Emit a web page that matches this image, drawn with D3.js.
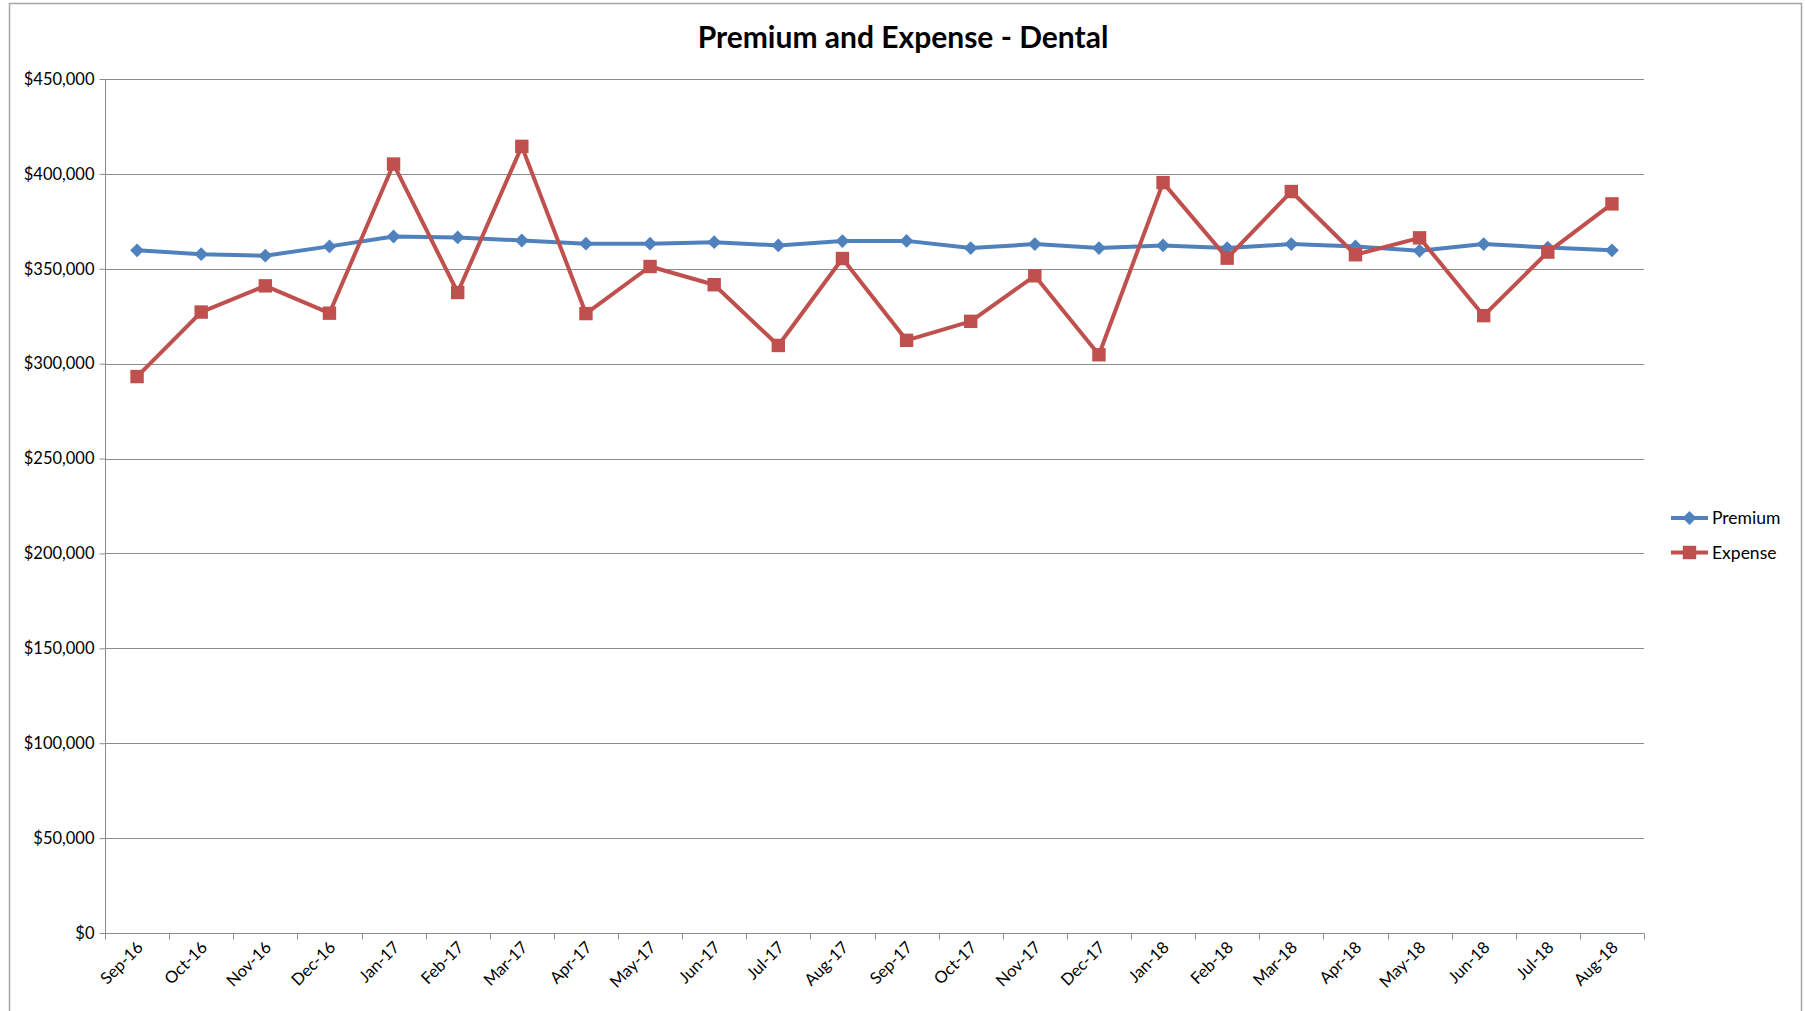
<!DOCTYPE html>
<html>
<head>
<meta charset="utf-8">
<script src="https://cdn.jsdelivr.net/npm/d3@7"></script>
<style>
  body { margin: 0; background: #fff; }
  svg { display: block; font-family: Lato, "Open Sans", sans-serif; }
</style>
</head>
<body>
<div class="chart"></div>
<script>
const months = ['Sep-16','Oct-16','Nov-16','Dec-16','Jan-17','Feb-17','Mar-17','Apr-17','May-17','Jun-17','Jul-17','Aug-17',
    'Sep-17','Oct-17','Nov-17','Dec-17','Jan-18','Feb-18','Mar-18','Apr-18','May-18','Jun-18','Jul-18','Aug-18']

const premium = [359700, 357700, 356900, 361800, 367000, 366500, 364900, 363200, 363200, 364000, 362300, 364600,
    364700, 360900, 363000, 360900, 362300, 360900, 363000, 361800, 359500, 363000, 361200, 359700]

const expense = [293200, 327200, 341000, 326600, 405200, 337500, 414500, 326400, 351200, 341600, 309600, 355400,
    312300, 322300, 346300, 304700, 395400, 355600, 390700, 357400, 366300, 325300, 358800, 384200]

const yTicks = [0, 50000, 100000, 150000, 200000, 250000, 300000, 350000, 400000, 450000]

// diamond = square turned 45 degrees
const series = [
    {name: 'Premium', values: premium, color: '#4F81BD', size: 95, rot: 45},
    {name: 'Expense', values: expense, color: '#C0504D', size: 180, rot: 0}
]

const W = 1805, H = 1011
const margin = {top: 79, left: 105, right: 161, bottom: 78}

const svg = d3.select('.chart')
    .append('svg')
    .attr('width', W)
    .attr('height', H)

// outer chart border
svg.append('rect')
    .attr('x', 9.5).attr('y', 3.5)
    .attr('width', 1792).attr('height', 1020)
    .attr('fill', 'none')
    .attr('stroke', '#A6A6A6')
    .attr('stroke-width', 1.5)

const x = d3.scaleBand()
    .domain(months)
    .range([margin.left, W - margin.right])

const y = d3.scaleLinear()
    .domain([0, 450000])
    .range([H - margin.bottom, margin.top])

// gridlines
svg.append('g')
    .selectAll('line')
    .data(yTicks.slice(1))
    .enter()
    .append('line')
    .attr('x1', margin.left)
    .attr('x2', W - margin.right)
    .attr('y1', d => Math.round(y(d)) + 0.5)
    .attr('y2', d => Math.round(y(d)) + 0.5)
    .attr('stroke', '#8C8C8C')
    .attr('stroke-width', 1)

// y axis
const yAxis = svg.append('g')
    .attr('transform', `translate(${margin.left + 0.5},0)`)
    .call(d3.axisLeft(y).tickValues(yTicks).tickSize(6).tickPadding(5).tickFormat(d => '$' + d3.format(',')(d)))
yAxis.selectAll('line, path').attr('stroke', '#8C8C8C')
yAxis.select('.domain').attr('d', `M0,${margin.top}V${H - margin.bottom}`)
yAxis.selectAll('text')
    .attr('font-size', 16.5)
    .attr('fill', '#000')
    .attr('font-family', 'Lato, sans-serif')

// x axis with ticks on band boundaries
const xAxisG = svg.append('g')
    .attr('transform', `translate(0,${Math.round(y(0)) + 0.5})`)
xAxisG.append('line')
    .attr('x1', margin.left).attr('x2', W - margin.right)
    .attr('stroke', '#8C8C8C')
xAxisG.selectAll('.tk')
    .data(months.concat(['end']))
    .enter()
    .append('line')
    .attr('x1', (d, i) => Math.round(margin.left + i * x.step()) + 0.5)
    .attr('x2', (d, i) => Math.round(margin.left + i * x.step()) + 0.5)
    .attr('y1', 0).attr('y2', 6)
    .attr('stroke', '#8C8C8C')
xAxisG.selectAll('text')
    .data(months)
    .enter()
    .append('text')
    .attr('transform', d => `translate(${x(d) + x.bandwidth() / 2 + 7},${15}) rotate(-45)`)
    .attr('text-anchor', 'end')
    .attr('font-size', 16.5)
    .attr('fill', '#000')
    .text(d => d)

// lines and markers
const line = d3.line()
    .x((d, i) => x(months[i]) + x.bandwidth() / 2)
    .y(d => y(d))

series.forEach(s => {
    svg.append('path')
        .datum(s.values)
        .attr('d', line)
        .attr('fill', 'none')
        .attr('stroke', s.color)
        .attr('stroke-width', 4)
        .attr('stroke-linejoin', 'round')

    svg.append('g')
        .selectAll('path')
        .data(s.values)
        .enter()
        .append('path')
        .attr('d', d3.symbol().type(d3.symbolSquare).size(s.size))
        .attr('transform', (d, i) => `translate(${x(months[i]) + x.bandwidth() / 2},${y(d)}) rotate(${s.rot})`)
        .attr('fill', s.color)
})

// title
svg.append('text')
    .attr('x', 903)
    .attr('y', 48)
    .attr('text-anchor', 'middle')
    .attr('font-size', 30)
    .attr('font-weight', 'bold')
    .attr('fill', '#000')
    .text('Premium and Expense - Dental')

// legend
const legend = svg.append('g')
    .selectAll('g')
    .data(series)
    .enter()
    .append('g')
    .attr('transform', (d, i) => `translate(1671,${518 + i * 34.5})`)

legend.append('line')
    .attr('x1', 0).attr('x2', 37)
    .attr('stroke', d => d.color)
    .attr('stroke-width', 4)
legend.append('path')
    .attr('d', d => d3.symbol().type(d3.symbolSquare).size(d.size)())
    .attr('transform', d => `translate(18.5,0) rotate(${d.rot})`)
    .attr('fill', d => d.color)
legend.append('text')
    .attr('x', 41)
    .attr('dy', '0.35em')
    .attr('font-size', 17.5)
    .attr('fill', '#000')
    .text(d => d.name)
</script>
</body>
</html>
